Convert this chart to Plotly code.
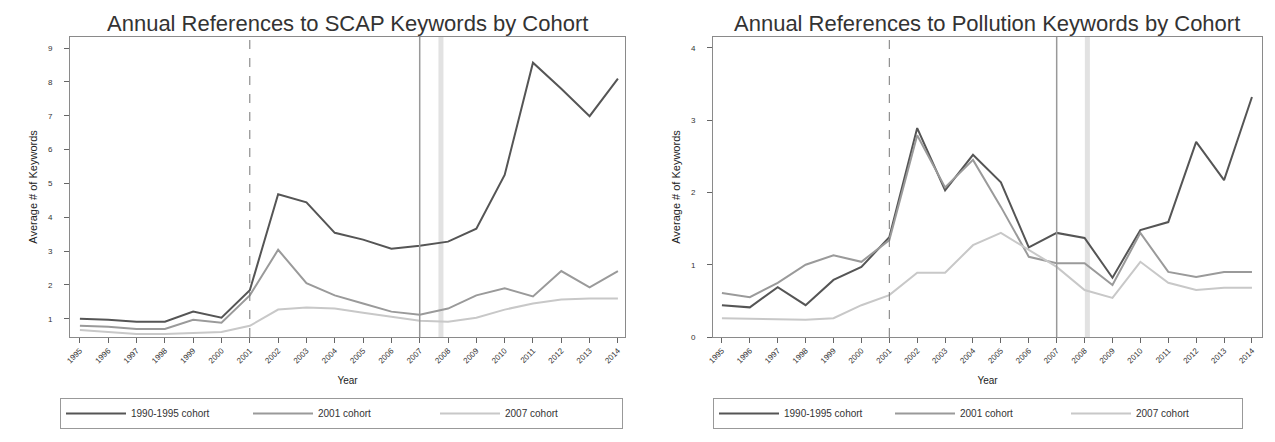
import plotly.graph_objects as go

years = list(range(1995, 2015))
cohorts = ["1990-1995 cohort", "2001 cohort", "2007 cohort"]
event_years = [2001, 2007]
band_years_scap = [2007.75]
band_years_poll = [2008.1]

scap_c1 = [1.00, 0.97, 0.91, 0.91, 1.21, 1.03, 1.84, 4.68, 4.44, 3.54, 3.34, 3.07, 3.16, 3.28, 3.66, 5.25, 8.57, 7.80, 6.99, 8.10]
scap_c2 = [0.79, 0.76, 0.70, 0.70, 0.97, 0.88, 1.69, 3.04, 2.05, 1.69, 1.45, 1.21, 1.12, 1.30, 1.69, 1.90, 1.66, 2.41, 1.93, 2.41]
scap_c3 = [0.67, 0.61, 0.55, 0.55, 0.58, 0.61, 0.79, 1.27, 1.33, 1.30, 1.18, 1.06, 0.94, 0.91, 1.03, 1.27, 1.45, 1.57, 1.60, 1.60]

poll_c1 = [0.44, 0.41, 0.69, 0.44, 0.79, 0.97, 1.38, 2.89, 2.03, 2.52, 2.14, 1.24, 1.44, 1.37, 0.82, 1.48, 1.59, 2.70, 2.17, 3.32]
poll_c2 = [0.61, 0.55, 0.75, 1.00, 1.13, 1.04, 1.34, 2.79, 2.07, 2.45, 1.80, 1.11, 1.02, 1.02, 0.72, 1.44, 0.90, 0.83, 0.90, 0.90]
poll_c3 = [0.26, 0.25, 0.24, 0.24, 0.26, 0.44, 0.58, 0.89, 0.89, 1.27, 1.44, 1.20, 0.97, 0.65, 0.54, 1.04, 0.75, 0.65, 0.68, 0.68]

scap_ticks = [1, 2, 3, 4, 5, 6, 7, 8, 9]
poll_ticks = [0, 1, 2, 3, 4]

colors = ["#555555", "#9a9a9a", "#c8c8c8"]
# the page body has an 8px margin, so the figure is 8px smaller and shifted
OFF = 8
W, H = 1275 - OFF, 442 - OFF

def px_x(p):
    return (p - OFF) / W

def px_y(p):
    return 1 - (p - OFF) / H

fig = go.Figure()

for ax, legend, series in [("", "legend", [scap_c1, scap_c2, scap_c3]),
                           ("2", "legend2", [poll_c1, poll_c2, poll_c3])]:
    for name, vals, col in zip(cohorts, series, colors):
        fig.add_trace(go.Scatter(
            x=years, y=vals, mode="lines", name=name,
            line=dict(color=col, width=2),
            xaxis="x" + ax, yaxis="y" + ax, legend=legend,
        ))

axis_common = dict(
    showgrid=False, zeroline=False, showline=True, mirror=True,
    linecolor="#8a8a8a", linewidth=1, ticks="outside", ticklen=5,
    tickcolor="#666666", tickfont=dict(size=8, color="#333333"),
)

legend_common = dict(
    orientation="h", xref="container", yref="container",
    xanchor="left", yanchor="top", entrywidthmode="pixels",
    bordercolor="#999999", borderwidth=1, bgcolor="white",
    font=dict(size=10, color="#333333"), itemwidth=60,
)

fig.update_layout(
    width=W, height=H,
    margin=dict(l=0, r=0, t=0, b=0, autoexpand=False),
    paper_bgcolor="white", plot_bgcolor="white",
    font=dict(family="Liberation Sans, Arial, sans-serif", color="#222222"),
    showlegend=True,
    xaxis=dict(domain=[px_x(70), px_x(625)], range=[1995 - 0.35, 2014 + 0.25],
               tickvals=years, ticktext=[str(y) for y in years], tickangle=-45,
               title=dict(text="Year", font=dict(size=10), standoff=12),
               anchor="y", **axis_common),
    yaxis=dict(domain=[px_y(337), px_y(37)], range=[0.46, 9.33],
               tickvals=scap_ticks, ticklabelstandoff=10,
               title=dict(text="Average # of Keywords", font=dict(size=11), standoff=8),
               anchor="x", **axis_common),
    xaxis2=dict(domain=[px_x(713), px_x(1262)], range=[1995 - 0.32, 2014 + 0.36],
                tickvals=years, ticktext=[str(y) for y in years], tickangle=-45,
                title=dict(text="Year", font=dict(size=10), standoff=12),
                anchor="y2", **axis_common),
    yaxis2=dict(domain=[px_y(337), px_y(37)], range=[0, 4.15],
                tickvals=poll_ticks, ticklabelstandoff=10,
                title=dict(text="Average # of Keywords", font=dict(size=11), standoff=8),
                anchor="x2", **axis_common),
    legend=dict(x=px_x(60), y=px_y(398), entrywidth=112, **legend_common),
    legend2=dict(x=px_x(713), y=px_y(398), entrywidth=101, **legend_common),
)

titles = [("Annual References to SCAP Keywords by Cohort", (70 + 625) / 2),
          ("Annual References to Pollution Keywords by Cohort", (713 + 1262) / 2)]
for text, cx in titles:
    fig.add_annotation(text=text, x=px_x(cx), y=px_y(23), xref="paper", yref="paper",
                       showarrow=False, xanchor="center", yanchor="middle",
                       font=dict(size=22, color="#333333"))

for ax, bands in [("", band_years_scap), ("2", band_years_poll)]:
    xref = "x" + ax
    yref = "y" + ax + " domain"
    fig.add_shape(type="line", x0=event_years[0], x1=event_years[0], y0=0, y1=1,
                  xref=xref, yref=yref, line=dict(color="#777777", width=1, dash="dash"))
    fig.add_shape(type="line", x0=event_years[1], x1=event_years[1], y0=0, y1=1,
                  xref=xref, yref=yref, line=dict(color="#999999", width=1.5))
    for b in bands:
        fig.add_shape(type="line", x0=b, x1=b, y0=0, y1=1, xref=xref, yref=yref,
                      line=dict(color="#e2e2e2", width=5), layer="below")

fig.write_html("out.html")
